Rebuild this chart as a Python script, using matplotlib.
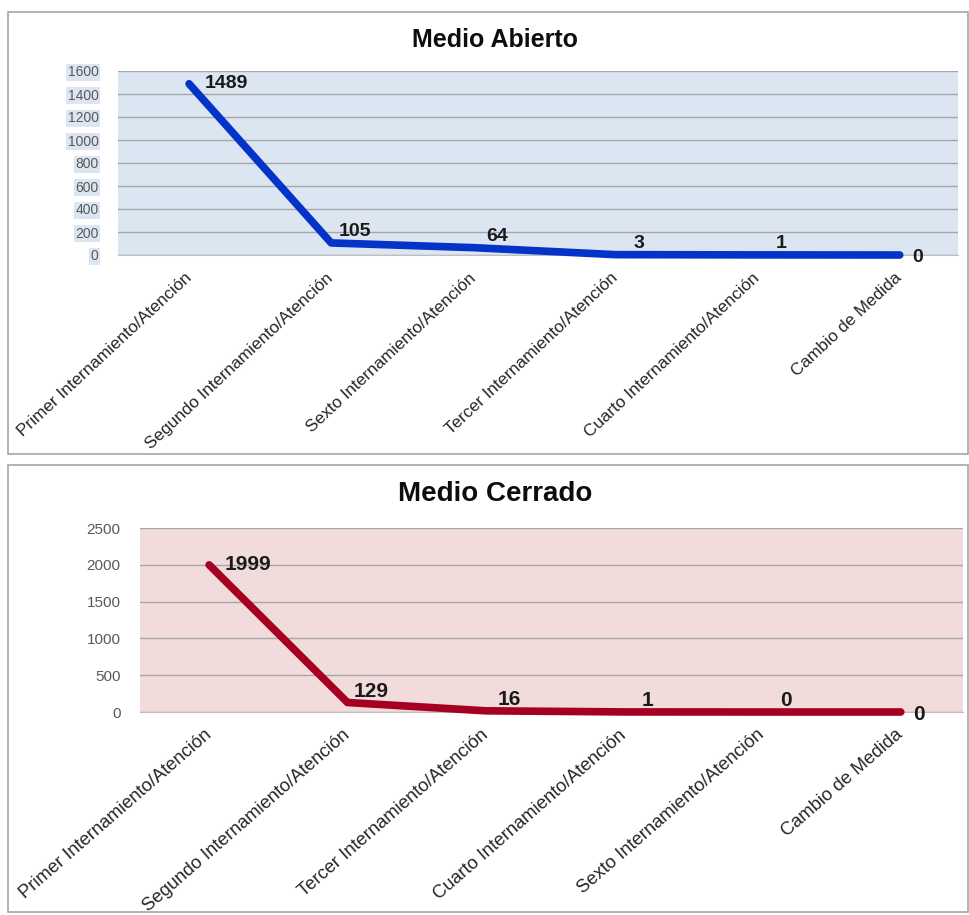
import matplotlib.pyplot as plt
from matplotlib.patches import Rectangle

plt.rcParams['font.family'] = ['Liberation Sans', 'DejaVu Sans']

# Medio Abierto
abierto_cats = ['Primer Internamiento/Atención', 'Segundo Internamiento/Atención',
                'Sexto Internamiento/Atención', 'Tercer Internamiento/Atención',
                'Cuarto Internamiento/Atención', 'Cambio de Medida']
abierto_vals = [1489, 105, 64, 3, 1, 0]

# Medio Cerrado
cerrado_cats = ['Primer Internamiento/Atención', 'Segundo Internamiento/Atención',
                'Tercer Internamiento/Atención', 'Cuarto Internamiento/Atención',
                'Sexto Internamiento/Atención', 'Cambio de Medida']
cerrado_vals = [1999, 129, 16, 1, 0, 0]

W, H = 970, 915
fig = plt.figure(figsize=(W / 100, H / 100), dpi=100)


def fx(px):
    return px / W


def fy(py):
    return 1 - py / H


def panel(top, bottom, left, right, ax_top, ax_bottom, title, cats, vals,
          color, bg, ymax, ystep, xmax, tick_bbox=None, tick_size=9.5,
          title_size=18, label_size=14, rot=43, cat_size=12.3, title_y=28):
    # frame round the panel
    fig.patches.append(Rectangle((fx(8), fy(bottom)), fx(960), (bottom - top) / H,
                                 transform=fig.transFigure, fill=False,
                                 edgecolor='#a6a6a6', linewidth=1.2))
    ax = fig.add_axes([fx(left), fy(ax_bottom), fx(right - left), (ax_bottom - ax_top) / H])
    ax.set_facecolor(bg)
    x = list(range(len(vals)))
    ax.plot(x, vals, color=color, linewidth=5.5, solid_capstyle='round',
            solid_joinstyle='round', zorder=3, clip_on=False)
    ax.set_xlim(-0.5, xmax)
    ax.set_ylim(0, ymax)
    ax.set_yticks(range(0, ymax + 1, ystep))
    ax.yaxis.grid(True, color='#a6a6a6', linewidth=1)
    ax.set_axisbelow(True)
    for s in ['top', 'right', 'left']:
        ax.spines[s].set_visible(False)
    ax.spines['bottom'].set_color('#bfbfbf')
    ax.tick_params(axis='both', length=0)
    ax.tick_params(axis='y', labelsize=tick_size, labelcolor='#595959', pad=14)
    ax.set_xticks(x)
    ax.set_xticklabels(cats, rotation=rot, ha='right', va='center',
                       rotation_mode='anchor', fontsize=cat_size, color='#262626')
    ax.tick_params(axis='x', pad=15)
    if tick_bbox:
        for t in ax.get_yticklabels():
            t.set_bbox(dict(facecolor=tick_bbox, edgecolor='none', pad=1))
    for i, v in enumerate(vals):
        if i == 0 or i == len(vals) - 1:
            off, ha = ((9, -2) if i else (11, 0)), 'left'
        else:
            off, ha = (17, 8), 'center'
        ax.annotate(str(v), (i, v), xytext=off, textcoords='offset points',
                    ha=ha, va='center', fontsize=label_size, fontweight='bold',
                    color='#1a1a1a', annotation_clip=False)
    fig.text(fx(495), fy(top + title_y), title, ha='center', va='center',
             fontsize=title_size, fontweight='bold', color='#0d0d0d')
    return ax


panel(12, 454, 118, 958, 71, 255, 'Medio Abierto', abierto_cats, abierto_vals,
      '#0433c9', '#dce6f2', 1600, 200, 5.41, tick_bbox='#dce6f2', tick_size=10,
      title_size=18, label_size=14, rot=43, cat_size=12.3, title_y=28)
panel(465, 912, 140, 963, 528, 712, 'Medio Cerrado', cerrado_cats, cerrado_vals,
      '#a50021', '#f2dcdb', 2500, 500, 5.45, tick_size=11,
      title_size=20, label_size=15, rot=41, cat_size=13.2, title_y=29)

fig.savefig('out.png', dpi=100)
